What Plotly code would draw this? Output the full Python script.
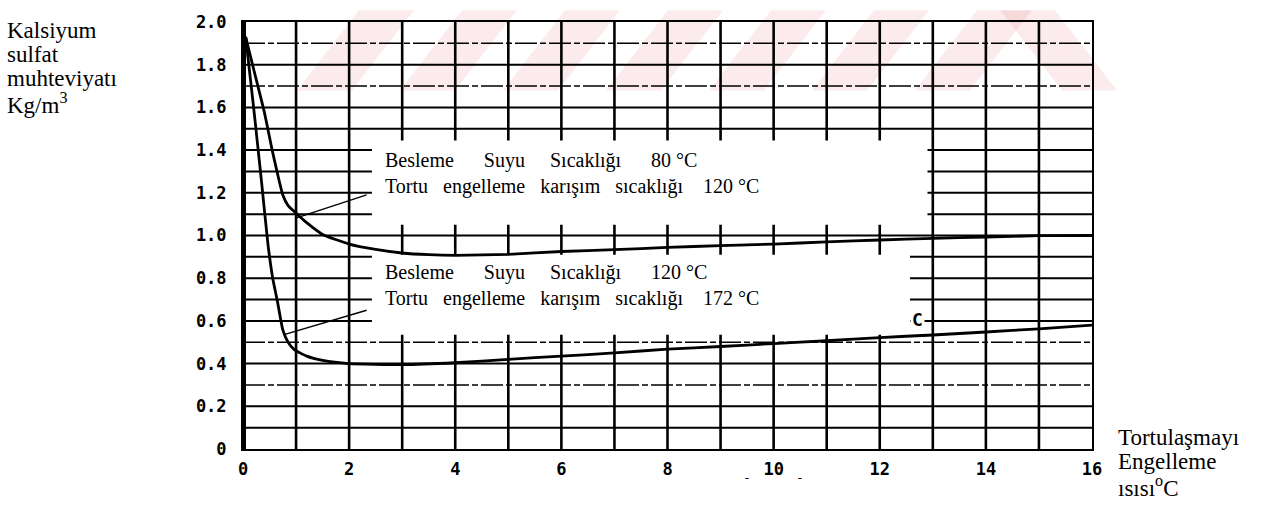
import plotly.graph_objects as go

# ---- figure geometry (pixels) ----
W, H = 1267, 509
ML, MR, MT, MB = 243, 175, 12, 60
PW, PH = W - ML - MR, H - MT - MB

# ---- axes ----
x_range = [0, 16]
y_range = [0, 2.0]
x_tick_vals = [0, 2, 4, 6, 8, 10, 12, 14, 16]
x_tick_text = ["0", "2", "4", "6", "8", "10", "12", "14", "16"]
y_tick_vals = [0, 0.2, 0.4, 0.6, 0.8, 1.0, 1.2, 1.4, 1.6, 1.8, 2.0]
y_tick_text = ["0", "0.2", "0.4", "0.6", "0.8", "1.0", "1.2", "1.4", "1.6", "1.8", "2.0"]

# grid lines
x_grid = [1, 2, 3, 4, 5, 6, 7, 8, 9, 10, 11, 12, 13, 14, 15]
y_grid = [0.1, 0.2, 0.3, 0.4, 0.5, 0.6, 0.7, 0.8, 0.9, 1.0,
          1.1, 1.2, 1.3, 1.4, 1.5, 1.6, 1.7, 1.8, 1.9]
y_grid_broken = [1.9, 1.7, 0.5, 0.3]

# ---- curves: besleme suyu 80 °C / 120 °C ----
x_80 = [0.05, 0.2, 0.4, 0.55, 0.65, 0.75, 0.85, 1.0, 1.2, 1.5, 2.0, 2.5, 3.0,
        3.5, 4, 5, 6, 7, 8, 9, 10, 11, 12, 13, 14, 15, 16]
y_80 = [1.93, 1.78, 1.58, 1.40, 1.29, 1.19, 1.14, 1.105, 1.06, 1.005, 0.96,
        0.935, 0.918, 0.91, 0.907, 0.912, 0.925, 0.934, 0.944, 0.953, 0.96,
        0.97, 0.979, 0.987, 0.993, 0.999, 1.0]

x_120 = [0.05, 0.2, 0.35, 0.47, 0.56, 0.65, 0.75, 0.85, 0.96, 1.2, 1.5, 2.0,
         3, 4, 5, 6, 7, 8, 9, 10, 11, 12, 13, 14, 15, 16]
y_120 = [1.93, 1.60, 1.25, 0.96, 0.80, 0.69, 0.558, 0.50, 0.467, 0.435, 0.415,
         0.40, 0.395, 0.404, 0.42, 0.435, 0.45, 0.468, 0.48, 0.494, 0.507,
         0.522, 0.534, 0.548, 0.563, 0.58]

# leader lines from the curves to their captions
lead_80_x, lead_80_y = [0.98, 2.33], [1.08, 1.19]
lead_120_x, lead_120_y = [0.79, 2.33], [0.537, 0.65]

# blank areas of the chart grid that hold the captions
caption_areas = [(2.43, 12.9, 1.05, 1.445), (2.43, 12.57, 0.535, 0.91)]

SP = "\u00a0"
caption_80 = ["Besleme" + SP * 6 + "Suyu" + SP * 5 + "Sıcaklığı" + SP * 6 + "80 °C",
              "Tortu" + SP * 3 + "engelleme" + SP * 3 + "karışım" + SP * 3 + "sıcaklığı" + SP * 4 + "120 °C"]
caption_120 = ["Besleme" + SP * 6 + "Suyu" + SP * 5 + "Sıcaklığı" + SP * 6 + "120 °C",
               "Tortu" + SP * 3 + "engelleme" + SP * 3 + "karışım" + SP * 3 + "sıcaklığı" + SP * 4 + "172 °C"]

y_title = ["Kalsiyum", "sulfat", "muhteviyatı", "Kg/m<sup>3</sup>"]
x_title = ["Tortulaşmayı", "Engelleme", "ısısı<sup>o</sup>C"]

SERIF = "Liberation Serif, Times New Roman, serif"
MONO = "DejaVu Sans Mono, monospace"


def px(xp):
    return (xp - ML) / PW


def py(yp):
    return (H - MB - yp) / PH


fig = go.Figure()

shapes = []
# faint watermark stripes across the top
stripe_left = [297, 400, 503, 606, 709, 812, 915]
PINK = "rgba(235,120,130,0.15)"
for xl in stripe_left:
    path = (f"M {px(xl)},{py(82)} L {px(xl + 55)},{py(82)} "
            f"L {px(xl + 117)},{py(0)} L {px(xl + 62)},{py(0)} Z")
    shapes.append(dict(type="path", xref="paper", yref="paper", path=path,
                       fillcolor=PINK, line=dict(width=0), layer="below"))
path = (f"M {px(1000)},{py(0)} L {px(1055)},{py(0)} "
        f"L {px(1117)},{py(82)} L {px(1062)},{py(82)} Z")
shapes.append(dict(type="path", xref="paper", yref="paper", path=path,
                   fillcolor=PINK, line=dict(width=0), layer="below"))

# grid
for xv in x_grid:
    shapes.append(dict(type="line", xref="x", yref="y", x0=xv, x1=xv,
                       y0=y_range[0], y1=y_range[1],
                       line=dict(color="black", width=2.6), layer="between"))
for yv in y_grid:
    broken = yv in y_grid_broken
    shapes.append(dict(type="line", xref="x", yref="y", x0=x_range[0],
                       x1=x_range[1], y0=yv, y1=yv,
                       line=dict(color="black", width=1.5 if broken else 2,
                                 dash="22px,3px,6px,3px" if broken else "solid"),
                       layer="between"))
# heavy left edge
shapes.append(dict(type="line", xref="x", yref="y", x0=0, x1=0,
                   y0=y_range[0], y1=y_range[1],
                   line=dict(color="black", width=6), layer="between"))
# caption areas
for x0, x1, y0, y1 in caption_areas:
    shapes.append(dict(type="rect", xref="x", yref="y", x0=x0, x1=x1, y0=y0,
                       y1=y1, fillcolor="white", line=dict(width=0),
                       layer="between"))

fig.add_trace(go.Scatter(x=x_80, y=y_80, mode="lines",
                         line=dict(color="black", width=2.8, shape="spline",
                                   smoothing=0.5),
                         hoverinfo="skip", showlegend=False))
fig.add_trace(go.Scatter(x=x_120, y=y_120, mode="lines",
                         line=dict(color="black", width=2.8, shape="spline",
                                   smoothing=0.5),
                         hoverinfo="skip", showlegend=False))
fig.add_trace(go.Scatter(x=lead_80_x, y=lead_80_y, mode="lines",
                         line=dict(color="black", width=1.4),
                         hoverinfo="skip", showlegend=False))
fig.add_trace(go.Scatter(x=lead_120_x, y=lead_120_y, mode="lines",
                         line=dict(color="black", width=1.4),
                         hoverinfo="skip", showlegend=False))

annotations = []
for txt, yp in zip(caption_80 + caption_120, [154, 180, 268, 295]):
    annotations.append(dict(x=px(383), y=py(yp), xref="paper", yref="paper",
                            text=txt, showarrow=False, xanchor="left",
                            yanchor="middle",
                            font=dict(family=SERIF, size=20, color="black")))

for txt, yp in zip(y_title, [21, 45, 70, 95]):
    annotations.append(dict(x=px(5), y=py(yp), xref="paper", yref="paper",
                            text=txt, showarrow=False, xanchor="left",
                            yanchor="middle",
                            font=dict(family=SERIF, size=23, color="black")))
for txt, yp in zip(x_title, [437, 462, 487]):
    annotations.append(dict(x=px(1116), y=py(yp), xref="paper", yref="paper",
                            text=txt, showarrow=False, xanchor="left",
                            yanchor="middle",
                            font=dict(family=SERIF, size=23, color="black")))

annotations.append(dict(x=12.72, y=0.605, xref="x", yref="y", text="C",
                        showarrow=False, bgcolor="white",
                        font=dict(family=MONO, size=18, color="black",
                                  weight="bold")))
for xv in [9.5, 10.5]:
    annotations.append(dict(x=xv, y=py(488), xref="x", yref="paper", text="-",
                            showarrow=False,
                            font=dict(family=MONO, size=13, color="black")))

TICKFONT = dict(family=MONO, size=17, color="black", weight="bold")
fig.update_layout(
    width=W, height=H,
    margin=dict(l=ML, r=MR, t=MT, b=MB),
    paper_bgcolor="white",
    plot_bgcolor="rgba(0,0,0,0)",
    shapes=shapes,
    annotations=annotations,
    xaxis=dict(range=x_range, tickvals=x_tick_vals, ticktext=x_tick_text,
               showgrid=False, zeroline=False, showline=True, mirror=True,
               linecolor="black", linewidth=2, ticks="",
               ticklabelstandoff=4, tickfont=TICKFONT),
    yaxis=dict(range=y_range, tickvals=y_tick_vals, ticktext=y_tick_text,
               showgrid=False, zeroline=False, showline=True, mirror=True,
               linecolor="black", linewidth=2, ticks="",
               ticklabelstandoff=11, tickfont=TICKFONT),
)

fig.write_html("out.html")
